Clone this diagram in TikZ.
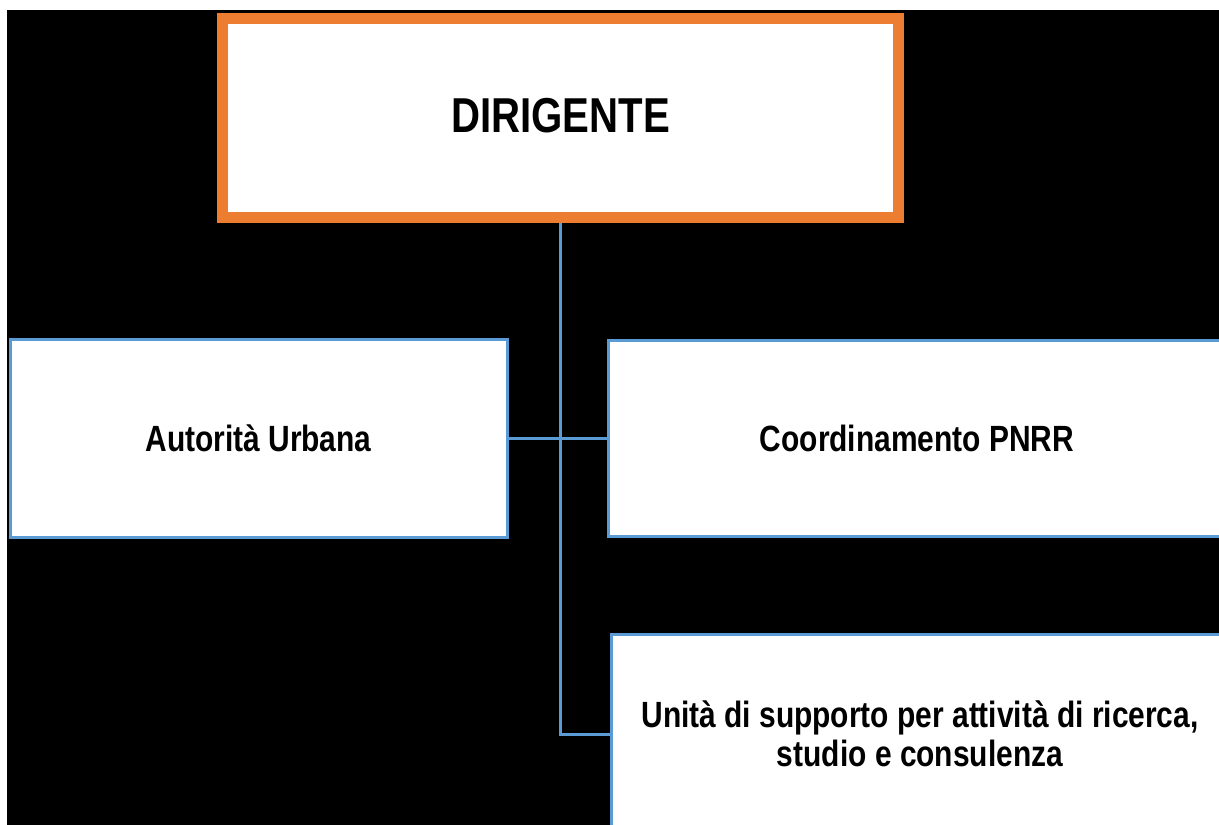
\documentclass[tikz,border=0pt]{standalone}
\usepackage{fontspec}
\newfontfamily\nb[FakeStretch=0.82]{Liberation Sans}
\definecolor{obord}{HTML}{ED7D31}
\definecolor{bbord}{HTML}{5B9BD5}
\begin{document}
\begin{tikzpicture}[x=1pt,y=-1pt,
  box/.style={draw=bbord, line width=3pt, fill=white, inner sep=0pt, outer sep=0pt, align=center, font=\nb\bfseries\fontsize{36.5}{39}\selectfont},
  topbox/.style={draw=obord, line width=11pt, fill=white, inner sep=0pt, outer sep=5.5pt, text depth=6pt, font=\nb\bfseries\fontsize{49}{55}\selectfont},
  link/.style={draw=bbord, line width=3pt}]
\useasboundingbox (0,0) rectangle (1219,825);
\fill[white] (0,0) rectangle (1219,825);
\fill[black] (7,10) rectangle (1219,825);
\node[topbox, minimum width=676pt, minimum height=199pt] (dir) at (560.5,118) {DIRIGENTE};
\node[box, minimum width=497pt, minimum height=198pt] (au) at (258.5,438) {Autorità Urbana};
\node[box, minimum width=618pt, minimum height=196pt] (pnrr) at (917,438) {Coordinamento PNRR};
\node[box, minimum width=618pt, minimum height=200pt] (uni) at (920,734) {Unità di supporto per attività di ricerca,\\studio e consulenza};
\draw[link] (dir.south) -- (dir.south |- uni.west) -- (uni.west);
\draw[link] (au.east) -- (pnrr.west);
\end{tikzpicture}
\end{document}
